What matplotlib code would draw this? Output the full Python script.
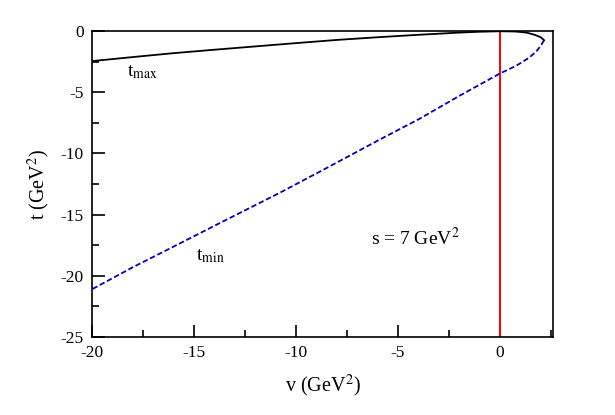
import matplotlib
matplotlib.use("Agg")
import matplotlib.pyplot as plt
from matplotlib.ticker import MultipleLocator

plt.rcParams['font.family'] = ['Liberation Serif', 'DejaVu Serif']
plt.rcParams['mathtext.fontset'] = 'stix'
plt.rcParams['axes.unicode_minus'] = False

# t_max branch (solid black)
v_max = [-20, -18, -16, -14, -12, -10, -8, -6, -4, -2, -1, 0, 0.75, 1.3, 1.7, 2.0, 2.16]
t_max = [-2.45, -2.12, -1.8, -1.52, -1.25, -0.98, -0.72, -0.5, -0.3, -0.12, -0.05, -0.01, -0.03, -0.12, -0.3, -0.5, -0.74]

# t_min branch (dashed blue)
v_min = [2.16, 2.0, 1.8, 1.55, 1.31, 1.0, 0.74, 0, -1, -2, -3.96, -5.88, -8.85, -10.78, -13.76, -15.69, -18, -20]
t_min = [-0.74, -1.2, -1.62, -2.0, -2.3, -2.62, -2.88, -3.46, -4.38, -5.3, -7.18, -8.85, -11.5, -13.2, -15.71, -17.35, -19.3, -21.1]

fig = plt.figure(figsize=(6.15, 4.15), dpi=100)
ax = fig.add_axes([0.1496, 0.188, 0.7496, 0.737])

ax.axvline(0, color='red', lw=1.4)
ax.plot(v_max, t_max, color='black', lw=1.3)
ax.plot(v_min, t_min, color='#0000b4', lw=1.3, ls=(0, (3, 1.5)))

ax.text(-18.3, -3.7, r't$_{\rm max}$', fontsize=14)
ax.text(-14.9, -18.7, r't$_{\rm min}$', fontsize=14)
ax.text(-6.3, -17.5, r's = 7 GeV$^2$', fontsize=14)

ax.set_xlim(-20, 2.6)
ax.set_ylim(-25, 0)
ax.xaxis.set_major_locator(MultipleLocator(5))
ax.xaxis.set_minor_locator(MultipleLocator(2.5))
ax.yaxis.set_major_locator(MultipleLocator(5))
ax.yaxis.set_minor_locator(MultipleLocator(2.5))
ax.tick_params(which='both', direction='in', top=False, right=False, labelsize=12.5, width=1.2)
ax.tick_params(which='major', length=9, pad=6)
ax.tick_params(which='minor', length=5)
for s in ax.spines.values():
    s.set_linewidth(1.2)

ax.set_xlabel(r'v (GeV$^2$)', fontsize=14.5, labelpad=8)
ax.set_ylabel(r't (GeV$^2$)', fontsize=14.5, labelpad=6)

fig.savefig('out.png', dpi=100)
